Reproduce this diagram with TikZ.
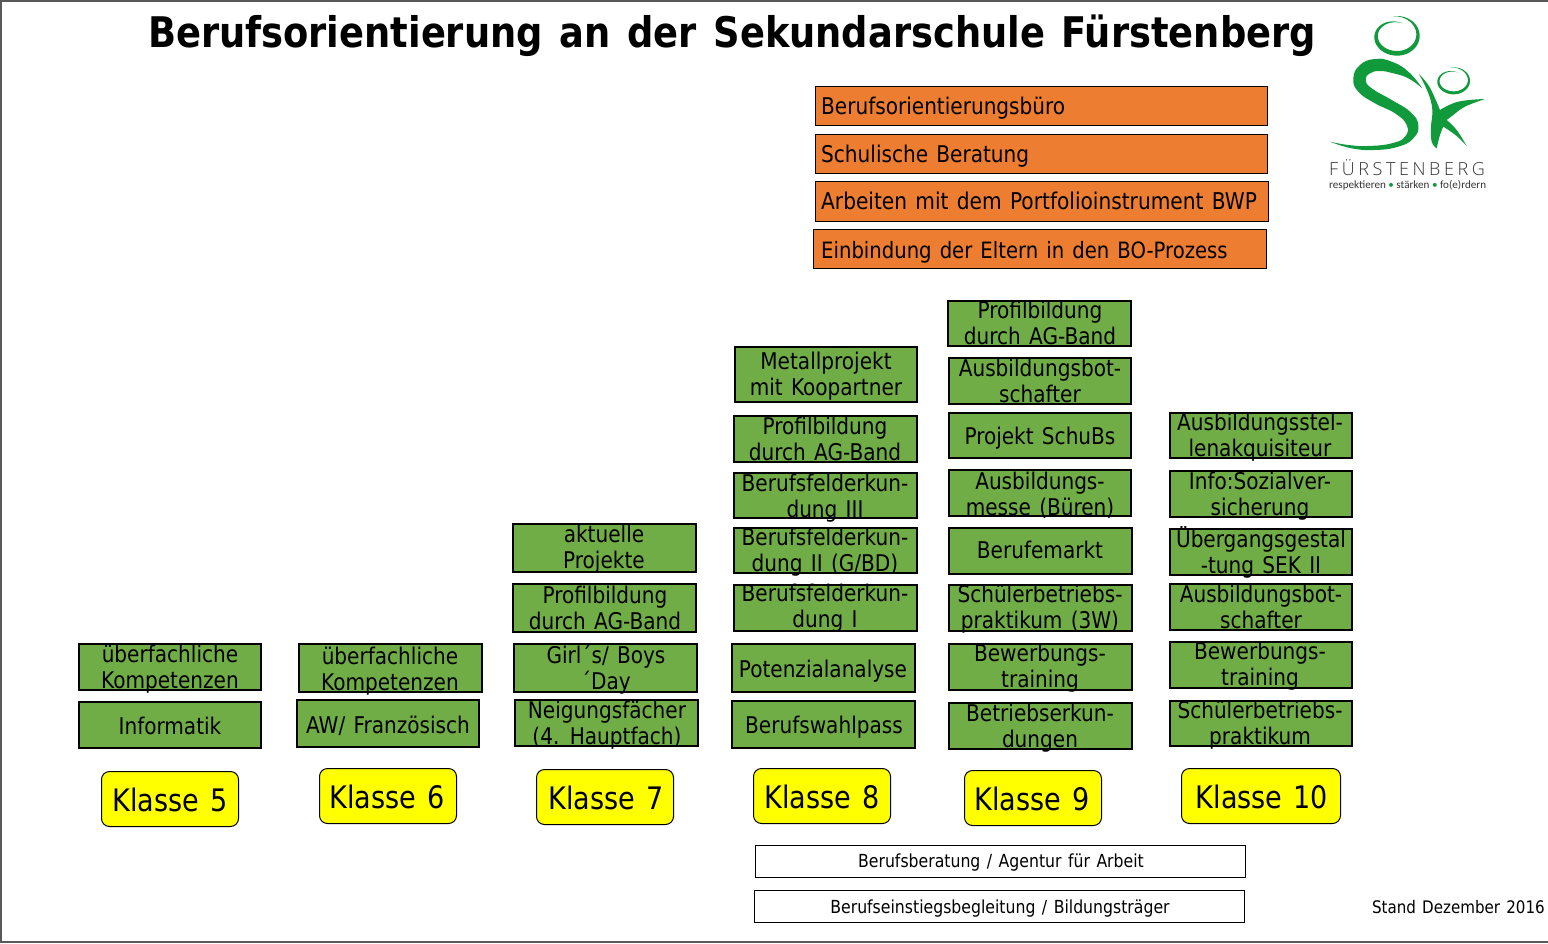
\documentclass[tikz,border=0pt]{standalone}
\usepackage{fontspec}
\setmainfont[FakeStretch=0.97,WordSpace=1.3]{DejaVu Sans Condensed}
\newfontfamily\logofont[LetterSpace=20]{Open Sans Light}
\newfontfamily\logosub{Carlito}
\definecolor{boxgreen}{HTML}{70AD47}
\definecolor{boxorange}{HTML}{ED7D31}
\definecolor{logogreen}{HTML}{109A3C}
\definecolor{framegray}{HTML}{595959}
\definecolor{klassyellow}{HTML}{FFFF00}
\newcommand{\lsA}{\rule[-6pt]{0pt}{24pt}}
\tikzset{
  gbox/.style={draw=black,line width=2pt,fill=boxgreen,inner sep=0pt},
  obox/.style={draw=black,line width=1pt,fill=boxorange,inner sep=0pt},
  wbox/.style={draw=black,line width=1.2pt,fill=white,inner sep=0pt},
  kbox/.style={draw=black,line width=1pt,fill=klassyellow,inner sep=0pt,rounded corners=8pt},
  bodytxt/.style={inner sep=0pt,align=center,font=\fontsize{23}{26}\selectfont},
  smalltxt/.style={inner sep=0pt,font=\fontsize{18}{20}\selectfont},
  ktxt/.style={inner sep=0pt,font=\fontsize{31}{36}\selectfont},
}
% name x1 y1 x2 y2 cx baseline1 line1 line2
\newcommand{\gtwo}[9]{%
  \node[gbox,minimum width={#4pt-#2pt-2pt},minimum height={#5pt-#3pt-2pt}] (#1) at ({(#2+#4)/2},{(#3+#5)/2}) {};
  \node[bodytxt] (#1t) at (#6,#7+7.4) {\lsA #8\\#9\lsA};
}
\newcommand{\gone}[8]{%
  \node[gbox,minimum width={#4pt-#2pt-2pt},minimum height={#5pt-#3pt-2pt}] (#1) at ({(#2+#4)/2},{(#3+#5)/2}) {};
  \node[bodytxt] (#1t) at (#6,#7-5) {\lsA #8};
}
% tapered spiral ring: cx cy rx ry drift width
\newcommand{\spiralring}[6]{%
  \fill[logogreen] plot[domain=-100:285,samples=90]
      ({#1+#3*cos(\x)},{#2+#5*max(0,(\x+100)/192.5-1)*max(0,(\x+100)/192.5-1)+#4*sin(\x)})
    -- plot[domain=285:-100,samples=90]
      ({#1+(#3-#6*sin(0.4675*(\x+100)))*cos(\x)},{#2+#5*max(0,(\x+100)/192.5-1)*max(0,(\x+100)/192.5-1)+(#4-#6*sin(0.4675*(\x+100)))*sin(\x)})
    -- cycle;
}
\begin{document}
\begin{tikzpicture}[x=1pt,y=-1pt]
\useasboundingbox (0,0) rectangle (1548,943);
% frame
\coordinate (fa) at (1548,1);
\coordinate (fb) at (1,1);
\coordinate (fc) at (1,942);
\coordinate (fd) at (1548,942);
\draw[framegray,line width=2pt] (fa) -- (fb) -- (fc) -- (fd);
% title
\node[inner sep=0pt,anchor=base,font=\fontsize{42.2}{48}\selectfont\bfseries] (title) at (732,47) {Berufsorientierung an der Sekundarschule Fürstenberg};
% orange
\foreach \nm/\xa/\ya/\xb/\yb/\bl/\sz/\tx in {o1/815/86/1268/126/114/23/Berufsorientierungsbüro,o2/815/134/1268/174/162/23/Schulische Beratung,o3/815/181/1269/222/209/23.1/Arbeiten mit dem Portfolioinstrument BWP,o4/813/229/1267/269/258/22.5/Einbindung der Eltern in den BO-Prozess}{
  \node[obox,anchor=north west,minimum width={\xb pt-\xa pt-1pt},minimum height={\yb pt-\ya pt-1pt}] (\nm) at (\xa,\ya) {};
  \node[inner sep=0pt,anchor=base west,font=\fontsize{\sz}{26}\selectfont] (\nm t) at (821,\bl) {\tx};
}
% column 5
\gtwo{a1}{78}{643}{262}{691}{170}{662}{überfachliche}{Kompetenzen}
\gone{a2}{78}{701}{262}{749}{170}{733}{Informatik}
% column 6
\gtwo{b1}{298}{643}{483}{693}{390}{664}{überfachliche}{Kompetenzen}
\gone{b2}{296}{699}{480}{748}{388}{732}{AW/ Französisch}
% column 7
\gtwo{c1}{512}{523}{697}{573}{604}{542}{aktuelle}{Projekte}
\gtwo{c2}{512}{583}{697}{633}{605}{603}{Profilbildung}{durch AG-Band}
\gtwo{c3}{513}{643}{698}{693}{606}{663}{Girl´s/ Boys}{´Day}
\gtwo{c4}{514}{699}{699}{747}{607}{718}{Neigungsfächer}{(4. Hauptfach)}
% column 8
\gtwo{d1}{734}{346}{918}{403}{826}{369}{Metallprojekt}{mit Koopartner}
\gtwo{d2}{733}{415}{918}{463}{825}{434}{Profilbildung}{durch AG-Band}
\gtwo{d3}{733}{472}{918}{519}{825}{491}{Berufsfelderkun-}{dung III}
\gtwo{d4}{733}{527}{918}{574}{825}{545}{Berufsfelderkun-}{dung II (G/BD)}
\gtwo{d5}{733}{584}{918}{632}{825}{601}{Berufsfelderkun-}{dung I}
\gone{d6}{731}{643}{916}{693}{823}{676}{Potenzialanalyse}
\gone{d7}{731}{700}{916}{749}{824}{732}{Berufswahlpass}
% column 9
\gtwo{e1}{947}{300}{1132}{347}{1040}{318}{Profilbildung}{durch AG-Band}
\gtwo{e2}{948}{357}{1132}{405}{1040}{376}{Ausbildungsbot-}{schafter}
\gone{e3}{948}{412}{1132}{459}{1040}{443}{Projekt SchuBs}
\gtwo{e4}{948}{469}{1132}{517}{1040}{489}{Ausbildungs-}{messe (Büren)}
\gone{e5}{948}{527}{1133}{575}{1040}{557}{Berufemarkt}
\gtwo{e6}{948}{584}{1133}{632}{1040}{602}{Schülerbetriebs-}{praktikum (3W)}
\gtwo{e7}{948}{643}{1133}{691}{1040}{661}{Bewerbungs-}{training}
\gtwo{e8}{948}{702}{1133}{750}{1040}{721}{Betriebserkun-}{dungen}
% column 10
\gtwo{f1}{1169}{412}{1353}{459}{1260}{430}{Ausbildungsstel-}{lenakquisiteur}
\gtwo{f2}{1169}{470}{1353}{518}{1260}{489}{Info:Sozialver-}{sicherung}
\gtwo{f3}{1169}{528}{1353}{576}{1261}{546}{Übergangsgestal}{-tung SEK II}
\gtwo{f4}{1169}{583}{1353}{631}{1261}{602}{Ausbildungsbot-}{schafter}
\gtwo{f5}{1169}{641}{1353}{689}{1260}{659}{Bewerbungs-}{training}
\gtwo{f6}{1169}{700}{1353}{747}{1260}{718}{Schülerbetriebs-}{praktikum}
% class labels
\foreach \nm/\xa/\ya/\xb/\yb/\cx/\bl/\tx in {k5/101/771/239/827/170/811/Klasse 5,k6/319/768/457/824/387/808/Klasse 6,k7/536/769/674/825/606/809/Klasse 7,k8/753/768/891/824/822/808/Klasse 8,k9/964/770/1102/826/1032/810/Klasse 9,k10/1181/768/1341/824/1262/808/Klasse 10}{
  \node[kbox,minimum width={\xb pt-\xa pt-1pt},minimum height={\yb pt-\ya pt-1pt},anchor=north west] (\nm) at (\xa,\ya) {};
  \node[ktxt,anchor=base] (\nm t) at (\cx,\bl) {\tx};
}
% white
\node[wbox,minimum width=490pt,minimum height=32pt,anchor=north west] (w1) at (755,845) {};
\node[smalltxt,anchor=base] (w1t) at (1001,867) {Berufsberatung / Agentur für Arbeit};
\node[wbox,minimum width=490pt,minimum height=32pt,anchor=north west] (w2) at (754,890) {};
\node[smalltxt,anchor=base] (w2t) at (1000,913) {Berufseinstiegsbegleitung / Bildungsträger};
\node[smalltxt,anchor=base east,font=\fontsize{17.3}{20}\selectfont] (stand) at (1545,913) {Stand Dezember 2016};
% logo
\begin{scope}[shift={(1325,10)},x=.3333pt,y=-.3333pt]
\spiralring{216}{77.5}{68}{59.5}{20}{14}
\spiralring{386}{212.5}{49}{40.5}{14}{9}
\fill[logogreen] plot[smooth,tension=.8] coordinates {(292,235)(250,185)(200,155)(150,147)(105,165)(85,205)(100,245)(150,280)(210,310)(245,345)(240,380)(200,400)(130,408)(70,405)(15,395)}
  -- plot[smooth,tension=.8] coordinates {(15,395)(80,415)(150,420)(220,410)(265,385)(280,345)(255,305)(200,270)(140,235)(122,210)(135,190)(165,183)(205,190)(250,205)(292,235)} -- cycle;
\fill[logogreen] plot[smooth,tension=.7] coordinates {(282,192)(310,225)(330,265)(345,300)}
  -- plot[smooth,tension=.7] coordinates {(345,300)(400,275)(480,267)}
  -- plot[smooth,tension=.7] coordinates {(480,267)(420,290)(385,315)(365,330)}
  -- plot[smooth,tension=.7] coordinates {(365,330)(395,360)(425,408)}
  -- plot[smooth,tension=.7] coordinates {(425,408)(395,378)(355,350)}
  -- plot[smooth,tension=.7] coordinates {(355,350)(345,375)(335,415)}
  -- plot[smooth,tension=.7] coordinates {(335,415)(320,395)(318,350)(322,300)(310,250)(282,192)} -- cycle;
\end{scope}
\node[inner sep=0pt,anchor=base west,font=\logofont\fontsize{18}{20}\selectfont,text=black!80] (lg1) at (1329,175) {FÜRSTENBERG};
\node[inner sep=0pt,anchor=base west,font=\logosub\fontsize{11.1}{13}\selectfont,text=black!80] (lg2) at (1329,188.5) {respektieren {\color{logogreen}•} stärken {\color{logogreen}•} fo(e)rdern};
\end{tikzpicture}
\end{document}
